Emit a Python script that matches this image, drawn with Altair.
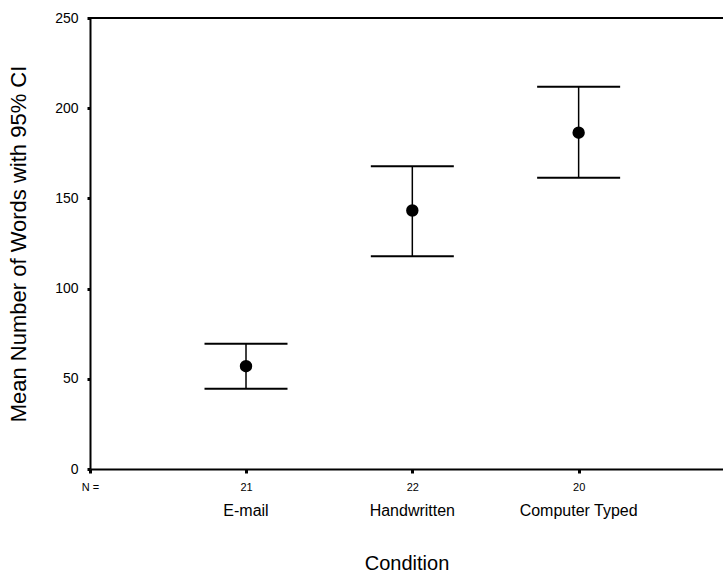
import json
import altair as alt
import pandas as pd

# ---- data ----
conditions = ["E-mail", "Handwritten", "Computer Typed"]
n_labels = ["21", "22", "20"]
positions = [1, 2, 3]
means = [57.0, 143.3, 186.4]
ci_lower = [44.5, 118.0, 161.4]
ci_upper = [69.4, 167.8, 211.9]
y_ticks = [0, 50, 100, 150, 200, 250]
x_domain = [0.062, 3.868]

df = pd.DataFrame({
    "condition": conditions,
    "n": n_labels,
    "pos": positions,
    "mean": means,
    "lower": ci_lower,
    "upper": ci_upper,
})

FONT = "Liberation Sans"

label_expr = (
    "datum.value < 0.5 ? 'N =' : "
    + json.dumps(n_labels)
    + "[round(datum.value) - 1]"
)

x_axis = alt.Axis(
    values=[x_domain[0]] + positions,
    labelExpr=label_expr,
    labelFlush=False,
    labelOverlap=False,
    tickSize=4,
    tickWidth=3,
    labelPadding=8,
    labelFontSize=11,
    titleFontSize=20,
    titleY=100,
    titleBaseline="alphabetic",
)
x_scale = alt.Scale(domain=x_domain, nice=False, zero=False)


def xdef():
    return alt.X("pos:Q", scale=x_scale, axis=x_axis, title="Condition")


y_axis = alt.Axis(
    values=y_ticks,
    tickSize=3,
    tickWidth=3,
    labelPadding=9,
    labelFontSize=14,
    titleFontSize=22,
    titleX=-65,
    titleBaseline="alphabetic",
)
y_scale = alt.Scale(domain=[0, max(y_ticks)], nice=False, zero=True)


def ydef(field):
    return alt.Y(field + ":Q", scale=y_scale, axis=y_axis,
                 title="Mean Number of Words with 95% CI")


base = alt.Chart(df)

rule = base.mark_rule(color="black", strokeWidth=1.5).encode(
    x=xdef(), y=ydef("lower"), y2="upper:Q"
)
cap_up = base.mark_tick(orient="horizontal", size=83, thickness=2,
                        color="black", opacity=1).encode(
    x=xdef(), y=ydef("upper")
)
cap_lo = base.mark_tick(orient="horizontal", size=83, thickness=2,
                        color="black", opacity=1).encode(
    x=xdef(), y=ydef("lower")
)
points = base.mark_circle(size=154, color="black", opacity=1).encode(
    x=xdef(), y=ydef("mean")
)
names = base.mark_text(fontSize=16, font=FONT, baseline="alphabetic",
                       align="center", color="black").encode(
    x=xdef(), y=alt.value(498), text="condition:N"
)
# top frame line at the top of the value range
top_line = alt.Chart(pd.DataFrame({"top": [max(y_ticks)]})).mark_rule(
    color="black", strokeWidth=2
).encode(y=alt.Y("top:Q", scale=y_scale, axis=y_axis,
                 title="Mean Number of Words with 95% CI"))

chart = (
    alt.layer(top_line, rule, cap_up, cap_lo, points, names)
    .properties(
        width=633,
        height=451,
        autosize=alt.AutoSizeParams(type="none"),
        padding={"left": 90, "top": 18, "right": 0, "bottom": 103},
        background="white",
    )
    .configure_view(strokeWidth=0)
    .configure_axis(
        grid=False,
        domainColor="black",
        domainWidth=2,
        tickColor="black",
        labelColor="black",
        titleColor="black",
        labelFont=FONT,
        titleFont=FONT,
        titleFontWeight="normal",
    )
)

chart.save("out.html", embed_options={"renderer": "svg", "actions": False})
